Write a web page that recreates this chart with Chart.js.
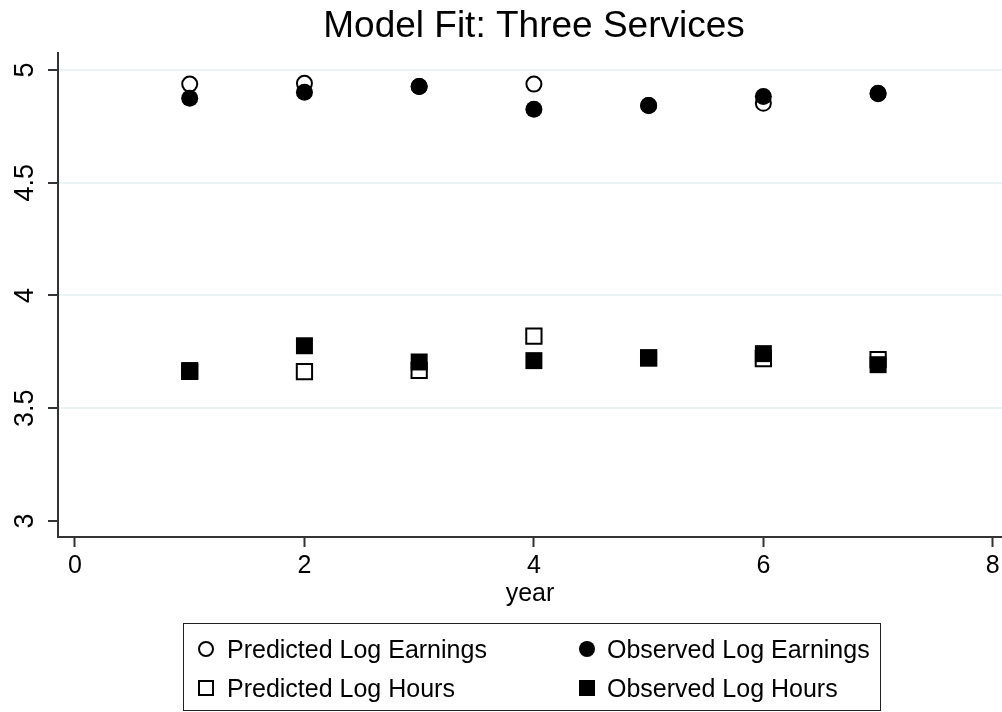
<!DOCTYPE html>
<html>
<head>
<meta charset="utf-8">
<title>Model Fit: Three Services</title>
<script src="https://cdn.jsdelivr.net/npm/chart.js@4.4.1/dist/chart.umd.min.js"></script>
<style>
  html, body { margin: 0; padding: 0; background: #fff; overflow: hidden; }
  #wrap { position: relative; width: 1002px; height: 712px; font-family: "Liberation Sans", Arial, sans-serif; }
  canvas { display: block; }
  #legend {
    position: absolute; left: 183px; top: 623px; width: 696px; height: 86px;
    border: 1.5px solid #222; box-sizing: content-box;
  }
  .item { position: absolute; height: 30px; line-height: 30px; font-size: 25px; color: #000; white-space: nowrap; }
  .sym { position: absolute; top: 7px; box-sizing: border-box; }
</style>
</head>
<body>
<div id="wrap">
  <canvas id="chart" width="1002" height="712"></canvas>
  <div id="legend"></div>
</div>
<script>
  // data
  const years = [1, 2, 3, 4, 5, 6, 7]
  const predEarnings = [4.937, 4.941, 4.926, 4.937, 4.842, 4.852, 4.897]
  const obsEarnings = [4.874, 4.901, 4.926, 4.826, 4.842, 4.882, 4.894]
  const predHours = [3.663, 3.662, 3.668, 3.820, 3.723, 3.720, 3.715]
  const obsHours = [3.667, 3.777, 3.705, 3.711, 3.723, 3.742, 3.693]

  const xTicks = [0, 2, 4, 6, 8]
  const yTicks = [3, 3.5, 4, 4.5, 5]
  const seriesLabels = ['Predicted Log Earnings', 'Observed Log Earnings', 'Predicted Log Hours', 'Observed Log Hours']

  const font = '"Liberation Sans", Arial, sans-serif'
  const axisColor = '#333333'

  const toPoints = (ys) => years.map((x, i) => ({ x: x, y: ys[i] }))

  // title centred over the plot region, like Stata does
  const plotTitle = {
    id: 'plotTitle',
    afterDraw(chart) {
      const { ctx, chartArea } = chart
      ctx.save()
      ctx.font = '37px ' + font
      ctx.fillStyle = '#000'
      ctx.textAlign = 'center'
      ctx.textBaseline = 'alphabetic'
      ctx.fillText('Model Fit: Three Services', (chartArea.left + chartArea.right) / 2 + 4, 37)
      ctx.restore()
    }
  }

  const ctx = document.getElementById('chart').getContext('2d')
  const chart = new Chart(ctx, {
    type: 'scatter',
    data: {
      datasets: [
        {
          label: seriesLabels[0],
          data: toPoints(predEarnings),
          pointStyle: 'circle',
          pointRadius: 7.5,
          pointBorderWidth: 2,
          borderColor: '#000',
          backgroundColor: 'rgba(0,0,0,0)',
          order: 4
        },
        {
          label: seriesLabels[1],
          data: toPoints(obsEarnings),
          pointStyle: 'circle',
          pointRadius: 8.5,
          pointBorderWidth: 0,
          borderColor: '#000',
          backgroundColor: '#000',
          order: 3
        },
        {
          label: seriesLabels[2],
          data: toPoints(predHours),
          pointStyle: 'rect',
          pointRadius: 10.8,
          pointBorderWidth: 2,
          borderColor: '#000',
          backgroundColor: 'rgba(0,0,0,0)',
          order: 2
        },
        {
          label: seriesLabels[3],
          data: toPoints(obsHours),
          pointStyle: 'rect',
          pointRadius: 12,
          pointBorderWidth: 0,
          borderColor: '#000',
          backgroundColor: '#000',
          order: 1
        }
      ]
    },
    options: {
      responsive: false,
      animation: false,
      devicePixelRatio: 1,
      // no auto padding, otherwise the big markers shrink the plot region
      layout: { autoPadding: false, padding: { top: 53, right: 0, bottom: 100, left: 0 } },
      plugins: {
        legend: { display: false },
        title: { display: false },
        tooltip: { enabled: false }
      },
      scales: {
        x: {
          type: 'linear',
          min: -0.148,
          max: 8.08,
          afterBuildTicks: (scale) => { scale.ticks = xTicks.map(v => ({ value: v })) },
          afterFit: (scale) => {
            scale.height = 75
            scale.paddingLeft = 0
            scale.paddingRight = 0
          },
          border: { display: true, color: axisColor, width: 2 },
          grid: { drawOnChartArea: false, drawTicks: true, tickLength: 10, tickColor: axisColor, tickWidth: 2 },
          ticks: {
            padding: 4,
            color: '#000',
            font: { family: font, size: 25 },
            maxRotation: 0,
            callback: (v) => String(v)
          },
          title: {
            display: true,
            text: 'year',
            color: '#000',
            font: { family: font, size: 25 },
            padding: { top: 0, bottom: 3 }
          }
        },
        y: {
          type: 'linear',
          min: 2.929,
          max: 5.075,
          afterBuildTicks: (scale) => { scale.ticks = yTicks.map(v => ({ value: v })) },
          afterFit: (scale) => {
            scale.width = 58
            scale.paddingTop = 0
            scale.paddingBottom = 0
          },
          border: { display: true, color: axisColor, width: 2 },
          grid: {
            drawOnChartArea: true,
            drawTicks: true,
            tickLength: 10,
            tickColor: axisColor,
            tickWidth: 2,
            lineWidth: 2,
            color: (c) => (c.tick && c.tick.value === 3) ? 'rgba(0,0,0,0)' : '#eaf2f3'
          },
          ticks: {
            padding: 4,
            color: '#000',
            font: { family: font, size: 27 },
            minRotation: 90,
            maxRotation: 90,
            crossAlign: 'center',
            callback: (v) => String(v)
          }
        }
      }
    },
    plugins: [plotTitle]
  })

  // boxed two-column legend below the plot, built from the datasets
  const legend = document.getElementById('legend')
  const cols = [{ sym: 22, text: 43 }, { sym: 403, text: 423 }]
  chart.data.datasets.forEach((ds, i) => {
    const col = cols[i % 2]
    const row = Math.floor(i / 2)
    const item = document.createElement('div')
    item.className = 'item'
    item.style.left = col.sym - 8 + 'px'
    item.style.top = (row === 0 ? 10 : 49) + 'px'

    const sym = document.createElement('span')
    sym.className = 'sym'
    const filled = ds.backgroundColor !== 'rgba(0,0,0,0)'
    sym.style.width = '16px'
    sym.style.height = '16px'
    sym.style.left = '0px'
    sym.style.borderRadius = ds.pointStyle === 'circle' ? '50%' : '0'
    sym.style.background = filled ? '#000' : 'transparent'
    sym.style.border = filled ? 'none' : '2px solid #000'
    item.appendChild(sym)

    const txt = document.createElement('span')
    txt.style.position = 'absolute'
    txt.style.left = (col.text - col.sym + 8) + 'px'
    txt.textContent = ds.label
    item.appendChild(txt)

    legend.appendChild(item)
  })
</script>
</body>
</html>
